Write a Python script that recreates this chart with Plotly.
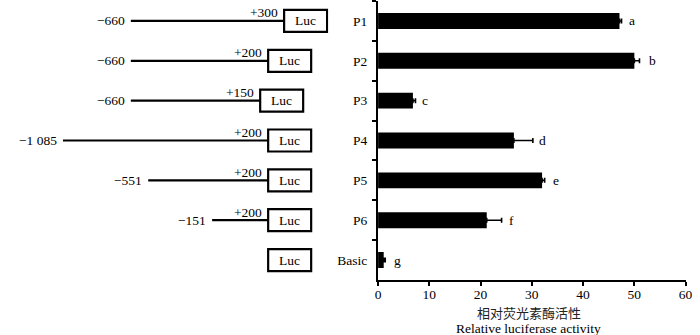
import plotly.graph_objects as go

# ---- data ----
constructs = ["P1", "P2", "P3", "P4", "P5", "P6", "Basic"]
activity = [47.1, 50.0, 6.8, 26.5, 32.0, 21.2, 1.1]
activity_err = [0.4, 1.0, 0.5, 3.7, 0.5, 2.9, 0.3]
sig_letters = ["a", "b", "c", "d", "e", "f", "g"]

starts = [-660, -660, -660, -1085, -551, -151, None]
ends = [300, 200, 150, 200, 200, 200, None]
start_labels = ["\u2212660", "\u2212660", "\u2212660", "\u22121 085", "\u2212551", "\u2212151", None]
end_labels = ["+300", "+200", "+150", "+200", "+200", "+200", None]
reporter = "Luc"

xticks = [0, 10, 20, 30, 40, 50, 60]
title_cn = "相对荧光素酶活性"
title_en = "Relative luciferase activity"

# ---- style ----
W, H = 700, 335
SERIF = "Liberation Serif, Times New Roman, serif"
CJK = "Noto Sans CJK SC, sans-serif"
FS = 13.5
letter_gap = [5, 8, 5, 4, 6, 5, 7]
box_w, box_h = 43, 22

fig = go.Figure()

fig.add_trace(go.Bar(
    y=constructs, x=activity, orientation="h",
    marker=dict(color="black", line=dict(width=0)),
    width=0.4,
    error_x=dict(type="data", symmetric=False, array=activity_err,
                 arrayminus=[0] * len(activity), color="black",
                 thickness=1.6, width=2.5),
    xaxis="x", yaxis="y", showlegend=False, hoverinfo="skip",
))

# schematic lines
for i, (s, e) in enumerate(zip(starts, ends)):
    if s is None:
        continue
    fig.add_trace(go.Scatter(
        x=[s, e], y=[constructs[i], constructs[i]], mode="lines",
        line=dict(color="black", width=2.2),
        xaxis="x2", yaxis="y", showlegend=False, hoverinfo="skip",
    ))

annotations = []
shapes = []
box_anchor = [e if e is not None else ends[1] for e in ends]
for i, name in enumerate(constructs):
    bx = box_anchor[i]
    shapes.append(dict(
        type="rect", xref="x2", yref="y",
        xsizemode="pixel", xanchor=bx, x0=0, x1=box_w,
        ysizemode="pixel", yanchor=i, y0=-box_h / 2, y1=box_h / 2,
        line=dict(color="black", width=2.2), fillcolor="white", layer="above",
    ))
    annotations.append(dict(
        xref="x2", yref="y", x=bx, y=i, xshift=box_w / 2, text=reporter,
        showarrow=False, xanchor="center", yanchor="middle",
        font=dict(family=SERIF, size=FS, color="black"),
    ))
    if starts[i] is not None:
        annotations.append(dict(
            xref="x2", yref="y", x=starts[i], y=i, xshift=-4, text=start_labels[i],
            showarrow=False, xanchor="right", yanchor="middle",
            font=dict(family=SERIF, size=FS, color="black"),
        ))
        annotations.append(dict(
            xref="x2", yref="y", x=ends[i], y=i, xshift=-20, yshift=8,
            text=end_labels[i], showarrow=False, xanchor="center", yanchor="middle",
            font=dict(family=SERIF, size=FS, color="black"),
        ))
    # significance letters
    annotations.append(dict(
        xref="x", yref="y", x=activity[i] + activity_err[i], y=i,
        xshift=letter_gap[i], text=sig_letters[i], showarrow=False,
        xanchor="left", yanchor="middle",
        font=dict(family=SERIF, size=FS, color="black"),
    ))

plot_top, plot_bot = 1, 280
ph = plot_bot - plot_top
annotations.append(dict(
    xref="x domain", yref="paper", x=0.492, y=-(312 - plot_bot) / ph,
    text=title_cn, showarrow=False, xanchor="center", yanchor="middle",
    font=dict(family=CJK, size=13, color="#222"),
))
annotations.append(dict(
    xref="x domain", yref="paper", x=0.49, y=-(328 - plot_bot) / ph,
    text=title_en, showarrow=False, xanchor="center", yanchor="middle",
    font=dict(family=SERIF, size=FS, color="black"),
))

# schematic axis mapping (bp -> pixels), linear
px_per_bp = 0.162
ref_bp, ref_px = 200, 269
sch_px = 330
x2_range = [ref_bp - ref_px / px_per_bp, ref_bp + (sch_px - ref_px) / px_per_bp]

fig.update_layout(
    width=W, height=H,
    margin=dict(l=0, r=0, t=plot_top, b=H - plot_bot, pad=0),
    paper_bgcolor="white", plot_bgcolor="white",
    bargap=0.6,
    xaxis=dict(
        domain=[380.5 / W, 692.5 / W], range=[0, 60], tickvals=xticks,
        ticks="outside", ticklen=4, tickwidth=1.6, tickcolor="black",
        showline=True, linewidth=2, linecolor="black",
        showgrid=False, zeroline=False, anchor="y",
        ticklabelstandoff=-3,
        tickfont=dict(family=SERIF, size=FS, color="black"),
    ),
    yaxis=dict(
        type="category", categoryorder="array", categoryarray=constructs,
        range=[len(constructs) - 0.5, -0.5], tickson="boundaries",
        ticks="outside", ticklen=4, tickwidth=1.6, tickcolor="black",
        showline=True, linewidth=2, linecolor="black",
        showgrid=False, zeroline=False, anchor="x",
        ticklabelstandoff=6,
        tickfont=dict(family=SERIF, size=FS, color="black"),
    ),
    xaxis2=dict(
        domain=[0, sch_px / W], range=x2_range, visible=False,
        showgrid=False, zeroline=False, anchor="y",
    ),
    shapes=shapes,
    annotations=annotations,
)

fig.write_html(
    "out.html",
    config={"displayModeBar": False},
    post_script="document.body.style.margin='0';document.body.style.overflow='hidden';",
)
